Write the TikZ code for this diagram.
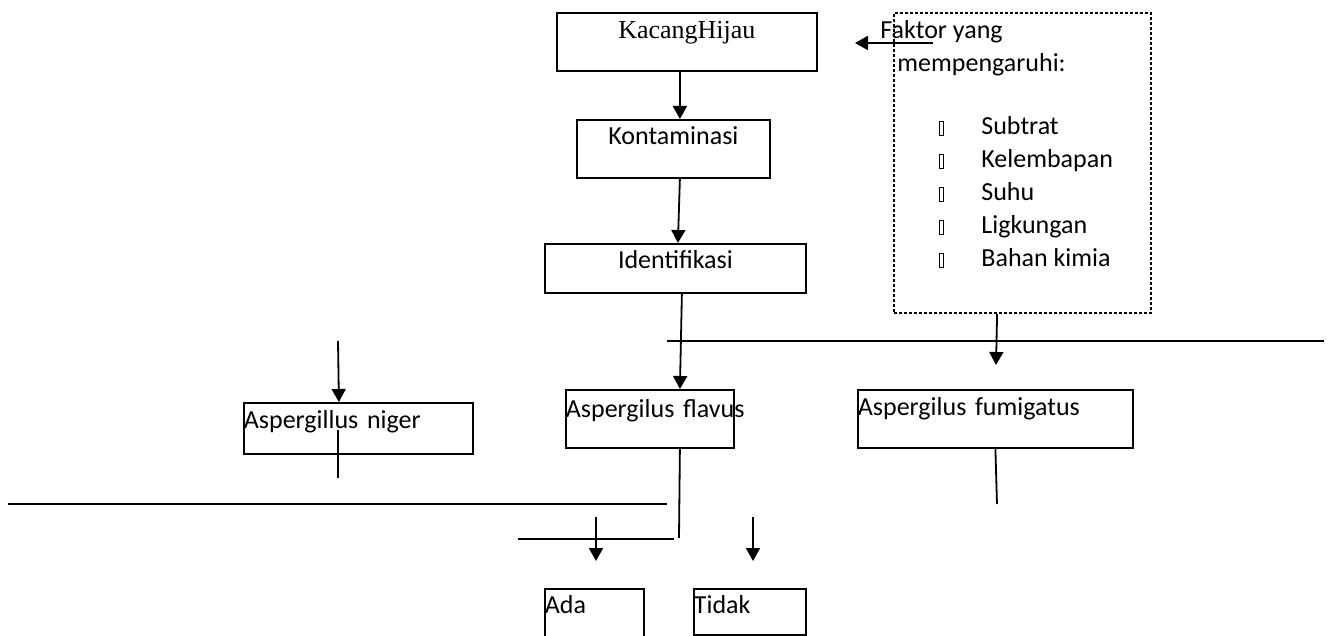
\documentclass[tikz,border=0pt]{standalone}
\usepackage{fontspec}
\setmainfont{Carlito}
\newfontfamily\timesfont{Liberation Serif}
\usetikzlibrary{arrows.meta}

\begin{document}
\begin{tikzpicture}[x=0.5pt,y=-0.5pt,
  font=\fontsize{13pt}{15.6pt}\selectfont,
  box/.style={draw, line width=0.9pt, inner sep=0pt, anchor=north west},
  dbox/.style={draw, line width=1.1pt, dash pattern=on 1.5pt off 1pt, inner sep=0pt, anchor=north west},
  txt/.style={inner sep=0pt, anchor=base west},
  tofu/.style={draw, line width=0.4pt, inner sep=0pt, minimum width=2pt, minimum height=7pt},
  a/.style={-{Triangle[length=6.5pt,width=7pt]}, line width=0.9pt},
  ln/.style={line width=0.9pt}]
\useasboundingbox (0,0) rectangle (1329,636);

% main chain
\node[box, text width=130pt, align=center, text height=13pt, text depth=16pt] (kacang) at (556,12) {\timesfont KacangHijau\hspace*{8pt}};
\node[box, text width=96.5pt, align=center, text height=12.5pt, text depth=16.5pt] (konta) at (576,119) {Kontaminasi};
\node[box, text width=130.5pt, align=center, text height=12.5pt, text depth=12pt] (ident) at (544,243) {Identifikasi};

% the three species
\node[box, text width=114.5pt, align=left, text height=13pt, text depth=12.5pt] (niger) at (243,402) {\mbox{Aspergillus niger}};
\node[box, text width=84pt, align=left, text height=14pt, text depth=15pt] (flavus) at (565,389) {\mbox{Aspergilus flavus}};
\node[box, text width=137.5pt, align=left, text height=13pt, text depth=16pt] (fumi) at (857,389) {\mbox{Aspergilus fumigatus}};

% result
\node[box, text width=49.5pt, align=left, text height=12.5pt, text depth=11.5pt] (ada) at (544,588) {Ada};
\node[box, text width=56pt, align=left, text height=12.5pt, text depth=10.5pt] (tidak) at (693,588) {Tidak};

% factors
\node[dbox, minimum width=128.5pt, minimum height=150pt] (faktor) at (893,12) {};
\node[txt] (fk1) at (880,39) {Faktor yang};
\node[txt] (fk2) at (897,72) {mempengaruhi:};
\foreach \i/\t in {0/Subtrat,1/Kelembapan,2/Suhu,3/Ligkungan,4/Bahan kimia}{
  \node[txt] (f\i) at (981,{135+33*\i}) {\t};
  \node[tofu] (b\i) at (941,{128+33*\i}) {};
}

% loose ends
\coordinate (fa) at (933,43);
\coordinate (fb) at (855,43);
\coordinate (fdn) at (996,365);
\coordinate (ntop) at (338,341);
\coordinate (nlo1) at (338,430);
\coordinate (nlo2) at (338,478);
\coordinate (fumend) at (997,504);
\coordinate (flend) at (679,538);
\coordinate (sh1) at (518,539);
\coordinate (sh2) at (674,539);
\coordinate (la1) at (667,341);
\coordinate (la2) at (1324,341);
\coordinate (lb1) at (8,504);
\coordinate (lb2) at (667,504);
\coordinate (ad1) at (596,517);
\coordinate (ad2) at (596,561);
\coordinate (ti1) at (753,517);
\coordinate (ti2) at (753,561);

\draw[a] ([xshift=-3.5pt]kacang.south) -- ([xshift=3.25pt]konta.north);
\draw[a] ([xshift=3.25pt]konta.south) -- ([xshift=1.25pt]ident.north);
\draw[a] ([xshift=3.25pt]ident.south) -- ([xshift=15pt]flavus.north);
\draw[a] (fa) -- (fb);
\draw[a] ([xshift=-12.75pt]faktor.south) -- (fdn);
\draw[a] (ntop) -- ([xshift=-9.75pt]niger.north);
\draw[ln] (nlo1) -- (nlo2);
\draw[ln] (fumi.south) -- (fumend);
\draw[ln] ([xshift=15pt]flavus.south) -- (flend);
\draw[ln] (sh1) -- (sh2);
\draw[ln] (la1) -- (la2);
\draw[ln] (lb1) -- (lb2);
\draw[a] (ad1) -- (ad2);
\draw[a] (ti1) -- (ti2);
\end{tikzpicture}
\end{document}
